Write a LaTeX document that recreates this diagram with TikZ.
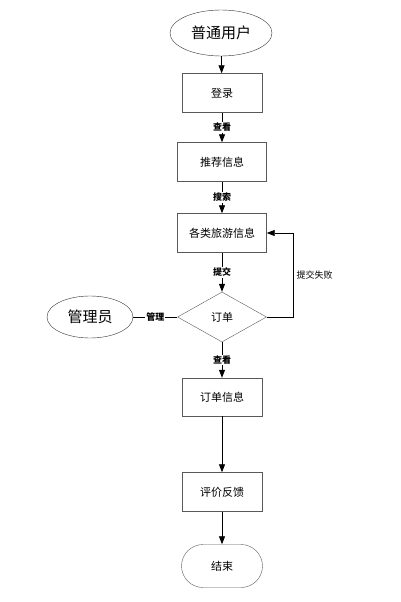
\documentclass[tikz,border=0pt]{standalone}
\usepackage{fontspec}
\newfontfamily\cjk{Noto Sans CJK SC}
\usetikzlibrary{arrows.meta,positioning,shapes}

\tikzset{
  box/.style={draw=black!65,fill=white,minimum width=80pt,minimum height=39pt,inner sep=0pt,font=\cjk\fontsize{11}{13}\selectfont},
  actor/.style={draw=black!80,ellipse,inner sep=0pt,font=\cjk\fontsize{15}{17}\selectfont},
  lbl/.style={fill=white,inner sep=1pt,font=\cjk\bfseries\fontsize{9}{10}\selectfont},
}

\begin{document}
\begin{tikzpicture}[x=1pt,y=-1pt,>={Triangle[width=6pt,length=8pt]}]
\useasboundingbox (0,0) rectangle (400,602);
\node[actor,minimum width=102pt,minimum height=46pt] (user) at (221,33) {普通用户};
\node[box] (login) at (222,93) {登录};
\node[box,minimum width=89pt] (rec) at (222,162) {推荐信息};
\node[box,minimum width=89pt] (info) at (222,233) {各类旅游信息};
\node[draw=black!65,diamond,minimum width=89pt,minimum height=50pt,aspect=1.78,inner sep=0pt,font=\cjk\fontsize{11}{13}\selectfont] (order) at (222,317) {订单};
\node[actor,minimum width=86pt,minimum height=42pt] (admin) at (90,317) {管理员};
\node[box,minimum height=38pt] (detail) at (222,397) {订单信息};
\node[box] (fb) at (222,492) {评价反馈};
\node[draw=black!65,rounded rectangle,minimum width=81pt,minimum height=43pt,inner sep=0pt,font=\cjk\fontsize{11}{13}\selectfont] (end) at (222,566) {结束};
\coordinate (fail) at (293,317);

\draw[->,thick] (user) -- (login);
\draw[->,thick] (login) -- node[lbl] {查看} (rec);
\draw[->,thick] (rec) -- node[lbl] {搜索} (info);
\draw[->,thick] (info) -- node[lbl] {提交} (order);
\draw[thick] (admin) -- node[lbl] {管理} (order);
\draw[->,thick] (order.east) -- (fail) |- node[pos=0.25,anchor=west,font=\cjk\fontsize{9}{10}\selectfont] {提交失败} (info.east);
\draw[->,thick] (order) -- node[lbl] {查看} (detail);
\draw[->,thick] (detail) -- (fb);
\draw[->,thick] (fb) -- (end);
\end{tikzpicture}
\end{document}
